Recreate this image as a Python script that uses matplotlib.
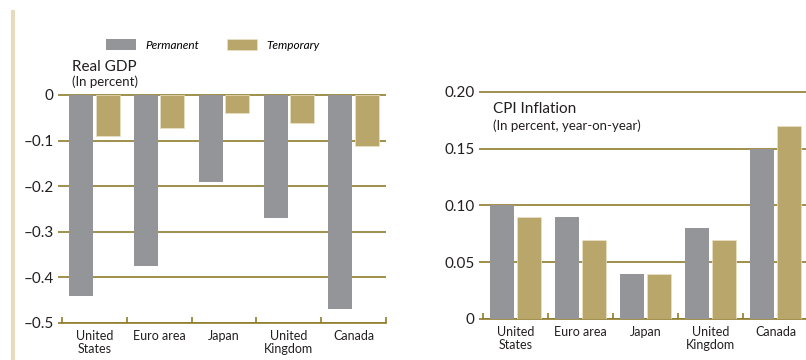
import matplotlib
matplotlib.use("Agg")
import matplotlib.pyplot as plt
from matplotlib.lines import Line2D
import numpy as np

plt.rcParams['font.family'] = ['Lato', 'DejaVu Sans']

# data
countries = ['United\nStates', 'Euro area', 'Japan', 'United\nKingdom', 'Canada']
gdp_permanent = [-0.44, -0.375, -0.19, -0.27, -0.47]
gdp_temporary = [-0.09, -0.073, -0.04, -0.062, -0.113]
cpi_permanent = [0.10, 0.09, 0.04, 0.08, 0.15]
cpi_temporary = [0.09, 0.07, 0.04, 0.07, 0.17]
gdp_ticks = [0, -0.1, -0.2, -0.3, -0.4, -0.5]
gdp_ticklabels = ['0', '\u20130.1', '\u20130.2', '\u20130.3', '\u20130.4', '\u20130.5']
cpi_ticks = [0, 0.05, 0.10, 0.15, 0.20]
cpi_ticklabels = ['0', '0.05', '0.10', '0.15', '0.20']

GRAY = '#939598'
TAN = '#b9a66b'
OLIVE = '#8f7d2c'
TEXT = '#231f20'

W, H = 806, 360
fig = plt.figure(figsize=(W / 100, H / 100), dpi=100)


def px_axes(x0, x1, ytop, ybot):
    # pixel box -> figure fraction
    return fig.add_axes([x0 / W, 1 - ybot / H, (x1 - x0) / W, (ybot - ytop) / H])


def draw_panel(ax, perm, temp, ticks, labels, ylim):
    x = np.arange(len(countries))
    w = 0.37
    bp = ax.bar(x - 0.205, perm, w, color=GRAY, zorder=3, label='Permanent')
    bt = ax.bar(x + 0.205, temp, w, color=TAN, edgecolor='#ece3c8', linewidth=0.5,
                zorder=3, label='Temporary')
    ax.set_xlim(-0.5, len(countries) - 0.5)
    ax.set_ylim(*ylim)
    ax.set_yticks(ticks)
    ax.set_yticklabels(labels)
    ax.set_xticks(x)
    ax.set_xticklabels(countries, fontsize=9, color=TEXT, linespacing=1.1)
    ax.set_xticks(np.arange(len(countries) + 1) - 0.5, minor=True)
    ax.tick_params(axis='x', which='major', length=0, pad=5)
    ax.tick_params(axis='x', which='minor', direction='in', length=4, width=1.2, color=OLIVE)
    ax.tick_params(axis='y', length=3, width=1.2, color=OLIVE, pad=3,
                   labelsize=11, labelcolor=TEXT)
    ax.grid(axis='y', color=OLIVE, linewidth=1.2, zorder=1)
    ax.set_axisbelow(True)
    for s in ['top', 'left', 'right']:
        ax.spines[s].set_visible(False)
    ax.spines['bottom'].set_color(OLIVE)
    ax.spines['bottom'].set_linewidth(1.2)
    return bp, bt


# Real GDP panel
ax1 = px_axes(62, 386, 90.4, 323)
bp, bt = draw_panel(ax1, gdp_permanent, gdp_temporary, gdp_ticks, gdp_ticklabels, (-0.5, 0.01))

# CPI inflation panel
ax2 = px_axes(483, 808, 86.3, 319)
draw_panel(ax2, cpi_permanent, cpi_temporary, cpi_ticks, cpi_ticklabels, (0, 0.205))

# titles
fig.text(72 / W, 1 - 67 / H, 'Real GDP', fontsize=11, color=TEXT, va='center', ha='left')
fig.text(72 / W, 1 - 82 / H, '(In percent)', fontsize=9.5, color=TEXT, va='center', ha='left')
fig.text(493 / W, 1 - 109 / H, 'CPI Inflation', fontsize=11, color=TEXT, va='center', ha='left')
fig.text(493 / W, 1 - 126 / H, '(In percent, year-on-year)', fontsize=9.5, color=TEXT,
         va='center', ha='left')

# legend
fig.legend([bp, bt], ['Permanent', 'Temporary'], ncol=2, frameon=False,
           loc='center left', bbox_to_anchor=(106 / W, 1 - 45 / H), borderpad=0,
           borderaxespad=0, handlelength=2.55, handleheight=1.0, handletextpad=0.75,
           columnspacing=2.4, prop={'style': 'italic', 'size': 8.5})

# decorative rule on the left edge
fig.add_artist(Line2D([13 / W, 13 / W], [0, 1 - 12 / H], color='#e5dcc0', linewidth=3,
                      transform=fig.transFigure))

fig.savefig('out.png', dpi=100)
